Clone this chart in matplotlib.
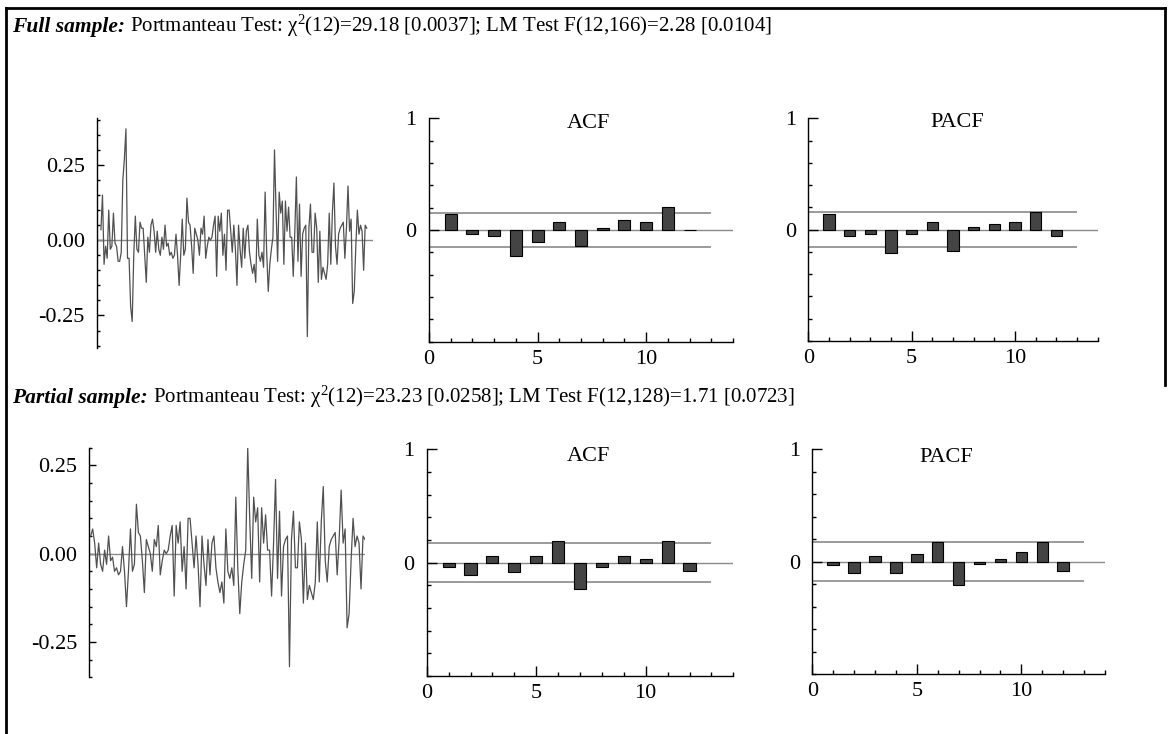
import numpy as np
import matplotlib
matplotlib.use("Agg")
import matplotlib.pyplot as plt
from matplotlib.lines import Line2D

plt.rcParams['font.family'] = ['Liberation Serif', 'DejaVu Serif']
plt.rcParams['mathtext.fontset'] = 'custom'
plt.rcParams['mathtext.rm'] = 'Liberation Serif'
plt.rcParams['mathtext.it'] = 'Liberation Serif:italic'
plt.rcParams['axes.unicode_minus'] = False

# ---------------- data ----------------
full_resid = [0.035, 0.15, -0.08, -0.02, -0.06, 0.10, -0.03, -0.02, 0.09, -0.01, -0.02, -0.07, -0.07, -0.04,
              0.20, 0.27, 0.37, -0.06, -0.06, -0.22, -0.27, -0.05, 0.08, -0.03, -0.04, 0.06, 0.04, 0.04,
              -0.05, -0.14, 0.01, -0.04,
              0.05, 0.07, 0.03, -0.04, 0.03, -0.03, -0.05, 0.01, -0.03, 0.05, -0.02, -0.01, -0.05, -0.04,
              -0.06, -0.05, 0.02, -0.05, -0.15, -0.05, 0.07, -0.05, -0.03, 0.14, 0.06, 0.05, -0.02, -0.11,
              0.04, 0.02, 0.00, -0.05, 0.04, 0.02, 0.08, -0.06, -0.02, 0.01, 0.00, 0.01, 0.05, 0.08, -0.12,
              0.08, 0.03, 0.09, -0.05, 0.02, -0.10, 0.10, 0.10, 0.03, -0.04, 0.05, -0.03, -0.15, 0.05, -0.03,
              -0.09, 0.04, -0.06, 0.03, 0.05, -0.04, -0.08, -0.11, -0.08, -0.14, 0.07, -0.05, -0.07, -0.04,
              -0.09, 0.16, -0.04, -0.17, -0.08, -0.03, 0.01, 0.30, 0.10, -0.07, 0.16, 0.09, 0.13, -0.08, 0.13,
              0.03, 0.11, 0.01, 0.01, -0.12, 0.03, 0.21, -0.07, 0.12, -0.12, 0.02, 0.04, 0.05, -0.32, 0.04,
              0.12, -0.04, -0.04, 0.09, 0.04, -0.14, 0.03, -0.13, -0.09, -0.11, -0.13, -0.08, 0.09, -0.08,
              0.09, 0.19, -0.02, -0.08, 0.02, 0.04, 0.05, 0.06, -0.06, 0.04, 0.18, 0.03, 0.07, -0.21, -0.17,
              -0.02, 0.10, 0.02, 0.05, 0.03, -0.10, 0.05, 0.04]
partial_start = 32
partial_resid = full_resid[partial_start:]

lags = list(range(1, 13))
full_acf = [0.14, -0.04, -0.055, -0.23, -0.11, 0.07, -0.14, 0.02, 0.09, 0.07, 0.21, 0.003]
full_pacf = [0.14, -0.055, -0.035, -0.21, -0.035, 0.07, -0.19, 0.02, 0.05, 0.07, 0.155, -0.055]
partial_acf = [-0.035, -0.105, 0.055, -0.085, 0.055, 0.19, -0.23, -0.035, 0.055, 0.035, 0.19, -0.07]
partial_pacf = [-0.033, -0.10, 0.054, -0.10, 0.072, 0.176, -0.206, -0.018, 0.02, 0.087, 0.176, -0.084]
full_band = 0.155
partial_band = 0.172

full_label = "Full sample:"
full_text = "Portmanteau Test: \u03c7$^{2}$(12)=29.18 [0.0037]; LM Test F(12,166)=2.28 [0.0104]"
partial_label = "Partial sample:"
partial_text = "Portmanteau Test: \u03c7$^{2}$(12)=23.23 [0.0258]; LM Test F(12,128)=1.71 [0.0723]"

# ---------------- layout ----------------
W, H = 1171, 734
fig = plt.figure(figsize=(W / 100, H / 100), dpi=100)


def px_axes(left, top, right, bottom):
    return fig.add_axes([left / W, 1 - bottom / H, (right - left) / W, (bottom - top) / H])


BAR_COLOR = '#444444'
LINE_GREY = '#8a8a8a'
SERIES_COLOR = '#505050'
TICK_FS = 16


def series_panel(ax, data, ylim, minor_ticks, xpad_left, xpad_right):
    n = len(data)
    ax.plot(range(n), data, color=SERIES_COLOR, lw=0.9, zorder=3)
    ax.axhline(0, color=LINE_GREY, lw=1.0, zorder=2)
    ax.set_xlim(-xpad_left, n - 1 + xpad_right)
    ax.set_ylim(*ylim)
    for s in ['top', 'right', 'bottom']:
        ax.spines[s].set_visible(False)
    ax.spines['left'].set_linewidth(1.0)
    ax.set_xticks([])
    ax.set_yticks([-0.25, 0.0, 0.25], labels=['-0.25', '0.00', '0.25'])
    ax.set_yticks(minor_ticks, minor=True)
    ax.tick_params(axis='y', which='major', direction='in', length=5, width=1, pad=8.5,
                   labelsize=TICK_FS)
    ax.tick_params(axis='y', which='minor', direction='in', length=2.5, width=1)
    ax.patch.set_alpha(0)


def corr_panel(ax, values, band, title, title_x, title_y):
    ax.axhline(0, color=LINE_GREY, lw=1.0, zorder=1)
    ax.hlines([band, -band], 0, 13, color=LINE_GREY, lw=1.2, zorder=1)
    ax.bar(lags, values, width=0.55, color=BAR_COLOR, edgecolor='black', linewidth=0.8, zorder=3)
    ax.set_xlim(0, 14)
    ax.set_ylim(-1, 1)
    for s in ['top', 'right']:
        ax.spines[s].set_visible(False)
    ax.spines['left'].set_linewidth(1.0)
    ax.spines['bottom'].set_linewidth(1.0)
    ax.set_xticks([0, 5, 10], labels=['0', '5', '10'])
    ax.set_xticks(range(0, 15), minor=True)
    ax.set_yticks([0, 1], labels=['0', '1'])
    ax.set_yticks(np.arange(-1, 1.01, 0.2), minor=True)
    ax.tick_params(axis='both', which='major', direction='in', length=7, width=1, labelsize=TICK_FS)
    ax.tick_params(axis='both', which='minor', direction='in', length=3, width=1)
    ax.tick_params(axis='y', which='major', pad=9)
    ax.tick_params(axis='x', which='major', pad=6)
    ax.text(title_x, title_y, title, ha='center', va='baseline', fontsize=16)
    ax.patch.set_alpha(0)


# top row
ax1 = px_axes(96.7, 118.3, 372.7, 347.7)
series_panel(ax1, full_resid, (-0.357, 0.405), np.arange(-0.35, 0.401, 0.05), 2.7, 3.8)
ax2 = px_axes(429, 118.3, 733, 341.7)
corr_panel(ax2, full_acf, full_band, 'ACF', 7.35, 0.91)
ax3 = px_axes(808.3, 118.3, 1097.7, 341.0)
corr_panel(ax3, full_pacf, full_band, 'PACF', 7.2, 0.925)

# bottom row
ax4 = px_axes(89.3, 447.7, 365.0, 677.3)
series_panel(ax4, partial_resid, (-0.347, 0.300), np.arange(-0.35, 0.301, 0.05), 0.7, 0.0)
ax5 = px_axes(426.7, 449.3, 733.3, 676.0)
corr_panel(ax5, partial_acf, partial_band, 'ACF', 7.38, 0.90)
ax6 = px_axes(812.3, 449.3, 1105.0, 674.0)
corr_panel(ax6, partial_pacf, partial_band, 'PACF', 6.43, 0.89)

# headers
fig.canvas.draw()
renderer = fig.canvas.get_renderer()


def header(label, text, x_px, base_px):
    t1 = fig.text(x_px / W, 1 - base_px / H, label, fontsize=15.5, fontweight='bold',
                  fontstyle='italic', va='baseline', ha='left')
    bb = t1.get_window_extent(renderer=renderer)
    fig.text((bb.x1 + 5) / W, 1 - base_px / H, text, fontsize=15, va='baseline', ha='left')


header(full_label, full_text, 12, 32)
header(partial_label, partial_text, 12, 403)

# frame
lw = 2.0
fig.add_artist(Line2D([6 / W, 6 / W], [1 - 8 / H, 0], color='black', lw=lw, transform=fig.transFigure))
fig.add_artist(Line2D([6 / W, 1165 / W], [1 - 8 / H, 1 - 8 / H], color='black', lw=lw, transform=fig.transFigure))
fig.add_artist(Line2D([1165 / W, 1165 / W], [1 - 8 / H, 1 - 385 / H], color='black', lw=lw,
                      transform=fig.transFigure))

fig.savefig('out.png', dpi=100)
